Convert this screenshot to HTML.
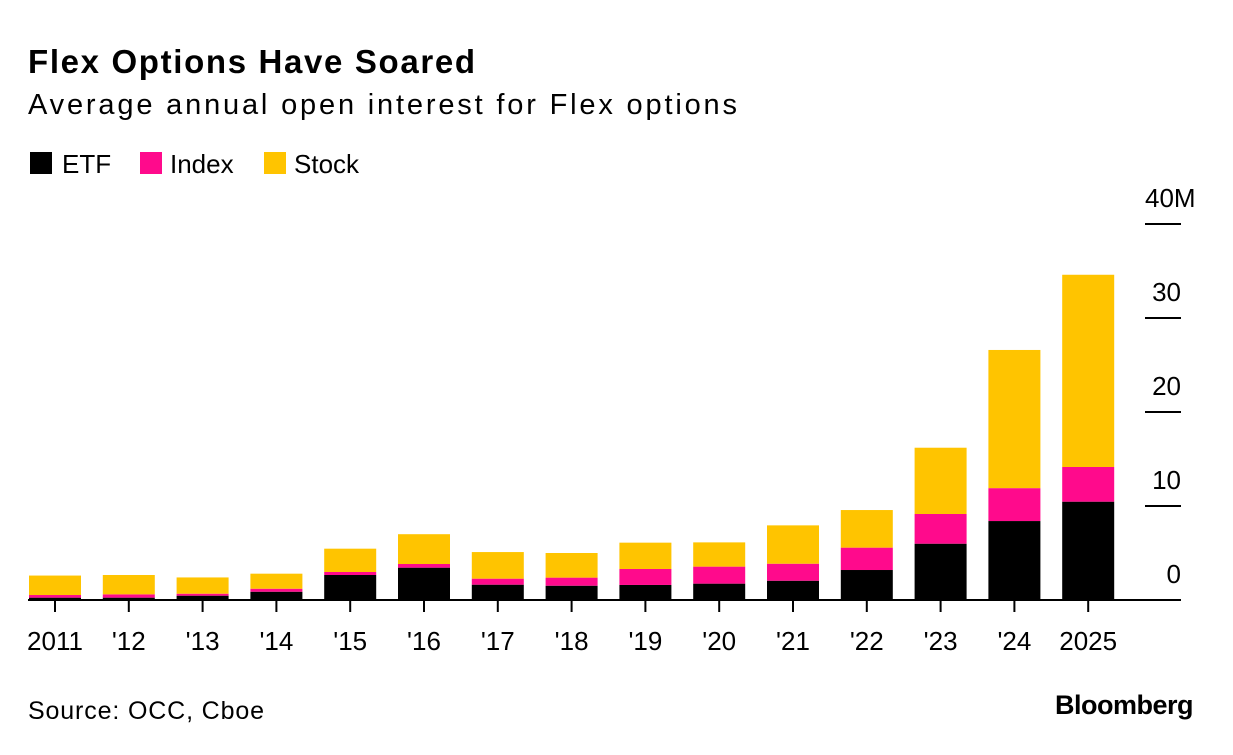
<!DOCTYPE html>
<html><head><meta charset="utf-8"><style>
body{margin:0;background:#fff;font-family:"Liberation Sans",Arial,sans-serif;}
svg text{font-family:"Liberation Sans",Arial,sans-serif;}
</style></head><body>
<svg id="chart" width="1233" height="750" viewBox="0 0 1233 750">
<text x="28" y="73" font-size="33" font-weight="bold" fill="#000" textLength="447">Flex Options Have Soared</text>
<text x="28" y="114" font-size="29" fill="#000" textLength="709">Average annual open interest for Flex options</text>
<g>
<rect x="30" y="152" width="22" height="22" fill="#000"/>
<text x="62" y="173" font-size="26">ETF</text>
<rect x="140" y="152" width="22" height="22" fill="#ff0a8c"/>
<text x="170" y="173" font-size="26">Index</text>
<rect x="264" y="152" width="22" height="22" fill="#ffc400"/>
<text x="294" y="173" font-size="26">Stock</text>
</g>
<g id="axes"></g>
<g id="bars"></g>
<text x="28" y="719" font-size="25" textLength="236">Source: OCC, Cboe</text>
<text x="1193" y="714" font-size="27" font-weight="bold" text-anchor="end" letter-spacing="-0.5">Bloomberg</text>
</svg>
<script>
const categories=["2011","'12","'13","'14","'15","'16","'17","'18","'19","'20","'21","'22","'23","'24","2025"];
const etf=[0.25,0.25,0.46,0.88,2.66,3.44,1.63,1.52,1.6,1.74,2.05,3.19,5.99,8.4,10.46];
const indexVals=[0.28,0.35,0.21,0.32,0.32,0.39,0.64,0.86,1.7,1.81,1.81,2.38,3.16,3.5,3.69];
const stock=[2.07,2.06,1.73,1.6,2.48,3.17,2.83,2.62,2.8,2.58,4.08,4.0,7.05,14.7,20.45];
const yTicks=[0,10,20,30,40];
const yTickLabels=["0","10","20","30","40M"];
const NS="http://www.w3.org/2000/svg";
const y0=600,pxPer=9.4;
function yScale(v){return y0-v*pxPer;}
function xScale(i){return 55+i*73.8;}
const bw=52;
const axes=document.getElementById('axes');
const bars=document.getElementById('bars');
function mk(tag,attrs,parent){const e=document.createElementNS(NS,tag);for(const k in attrs)e.setAttribute(k,attrs[k]);parent.appendChild(e);return e;}
yTicks.forEach((t,i)=>{
  const y=yScale(t);
  if(t!==0){const l=mk('line',{x1:1145,x2:1181,y1:y,y2:y,stroke:'#000','stroke-width':2},axes);
  
  }
  const last=i===yTicks.length-1;
  const tx=mk('text',{x:last?1145:1181,y:y-17,'font-size':26,'text-anchor':last?'start':'end'},axes);
  tx.textContent=yTickLabels[i];
  
  
});
const series=[[etf,'#000','etf'],[indexVals,'#ff0a8c','index'],[stock,'#ffc400','stock']];
categories.forEach((c,i)=>{
  let base=0;
  const cx=xScale(i);
  series.forEach(([arr,col,nm])=>{
    const v=arr[i];
    const r=mk('rect',{x:cx-bw/2,y:yScale(base+v),width:bw,height:v*pxPer,fill:col},bars);
    
    
    base+=v;
  });
  const tk=mk('line',{x1:cx,x2:cx,y1:600,y2:612,stroke:'#000','stroke-width':2},axes);
  
  
  const lb=mk('text',{x:cx,y:650,'font-size':26,'text-anchor':'middle'},axes);
  lb.textContent=c;
  
  
});
const bl=mk('line',{x1:28,x2:1181,y1:600,y2:600,stroke:'#000','stroke-width':2},document.getElementById('chart'));


</script>
</body></html>
